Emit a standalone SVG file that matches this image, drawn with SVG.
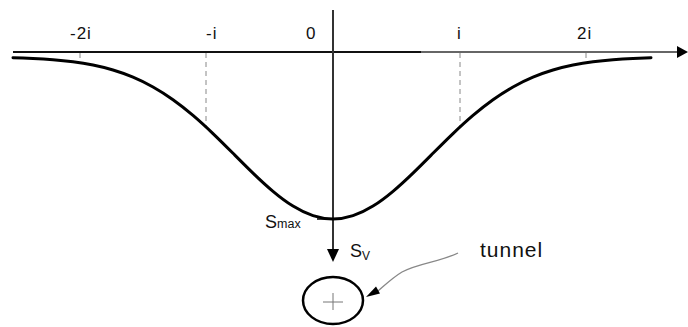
<svg xmlns="http://www.w3.org/2000/svg" width="688" height="327" viewBox="0 0 688 327">
  <style>
    .lbl { font-family: "Liberation Sans", Arial, sans-serif; fill: #111; }
    .guide { stroke: #888; stroke-width: 1; stroke-dasharray: 5 4; fill: none; }
    .curve { stroke: #000; stroke-width: 3; fill: none; stroke-linecap: round; }
  </style>
  <rect width="688" height="327" fill="#fff"/>

  <g id="axes">
    <line x1="13" y1="52" x2="421" y2="52" stroke="#111" stroke-width="2"/>
    <line x1="421" y1="52" x2="678" y2="52" stroke="#666" stroke-width="2"/>
    <polygon points="677,46 688,52 677,58" fill="#000"/>
    <line x1="333" y1="10" x2="333" y2="250" stroke="#333" stroke-width="2"/>
    <polygon points="327,249 339,249 333,262" fill="#000"/>
  </g>

  <g id="guides">
    <line class="guide" x1="80" y1="53" x2="80" y2="63"/>
    <line class="guide" x1="206" y1="53" x2="206" y2="127"/>
    <line class="guide" x1="460" y1="53" x2="460" y2="127"/>
    <line class="guide" x1="586" y1="53" x2="586" y2="63"/>
  </g>

  <g id="settlement-curve">
    <path class="curve" d="M13,57.78 C19.67,57.95 26.33,58.19 33,58.50 C39.67,58.81 46.33,59.20 53,59.73 C59.67,60.26 66.33,60.93 73,61.80 C79.67,62.67 86.33,63.73 93,65.07 C99.67,66.41 106.33,68.05 113,70.04 C119.67,72.03 126.33,74.39 133,77.19 C139.67,79.99 146.33,83.24 153,86.99 C159.67,90.74 166.33,94.98 173,99.72 C179.67,104.47 186.33,109.71 193,115.38 C199.67,121.05 206.33,127.17 213,133.55 C219.67,139.93 226.33,146.58 233,153.26 C239.67,159.94 246.33,166.64 253,173.09 C259.67,179.54 266.33,185.72 273,191.31 C279.67,196.90 286.33,201.92 293,206.06 C299.67,210.20 306.33,213.46 313,215.66 C319.67,217.86 326.33,219 333,219 C339.67,219 346.33,217.86 353,215.66 C359.67,213.46 366.33,210.20 373,206.06 C379.67,201.92 386.33,196.90 393,191.31 C399.67,185.72 406.33,179.54 413,173.09 C419.67,166.64 426.33,159.94 433,153.26 C439.67,146.58 446.33,139.93 453,133.55 C459.67,127.17 466.33,121.05 473,115.38 C479.67,109.71 486.33,104.47 493,99.72 C499.67,94.98 506.33,90.74 513,86.99 C519.67,83.24 526.33,79.99 533,77.19 C539.67,74.39 546.33,72.03 553,70.04 C559.67,68.05 566.33,66.41 573,65.07 C579.67,63.73 586.33,62.67 593,61.80 C599.67,60.93 606.33,60.26 613,59.73 C619.67,59.20 626.33,58.81 633,58.50 C639.67,58.19 646.33,57.95 651,57.80"/>
    <line x1="317" y1="219" x2="333" y2="219" stroke="#000" stroke-width="1.5"/>
  </g>

  <g id="axis-labels">
    <text class="lbl" x="70" y="39" font-size="17" letter-spacing="1">-2i</text>
    <text class="lbl" x="206" y="39" font-size="17" letter-spacing="1">-i</text>
    <text class="lbl" x="306" y="39" font-size="17">0</text>
    <text class="lbl" x="457" y="39" font-size="17">i</text>
    <text class="lbl" x="577" y="39" font-size="17" letter-spacing="1">2i</text>
  </g>

  <g id="smax-label">
    <text class="lbl" x="265" y="228" font-size="18">S<tspan font-size="12.5">max</tspan></text>
  </g>

  <g id="sv-label">
    <text class="lbl" x="350" y="257" font-size="18">S<tspan font-size="12" dy="3">V</tspan></text>
  </g>

  <g id="tunnel">
    <ellipse cx="333" cy="300.5" rx="30" ry="23.5" fill="none" stroke="#000" stroke-width="2.5"/>
    <line x1="323" y1="302" x2="343" y2="302" stroke="#777" stroke-width="1"/>
    <line x1="333" y1="293" x2="333" y2="310" stroke="#777" stroke-width="1"/>
  </g>

  <g id="tunnel-label">
    <text class="lbl" x="480" y="257" font-size="21" letter-spacing="1">tunnel</text>
  </g>

  <g id="connectors">
    <path d="M458,253 C440,262 418,263 402,272 C392,278 384,286 378,291" fill="none" stroke="#888" stroke-width="1.3"/>
    <polygon points="366,297 376,286.5 380,293.5" fill="#000"/>
  </g>
</svg>
